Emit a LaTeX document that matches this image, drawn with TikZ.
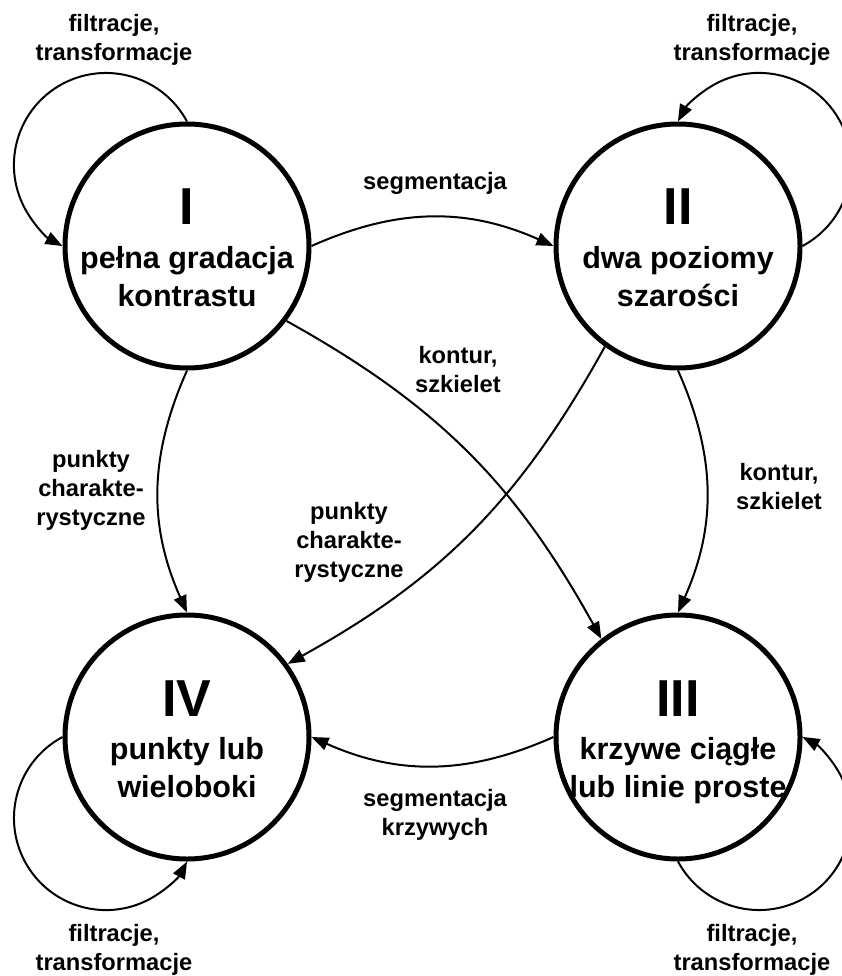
\documentclass[tikz,border=0pt]{standalone}
\usepackage{fontspec}
\setmainfont{Liberation Sans}
\usetikzlibrary{arrows.meta}
\begin{document}
\begin{tikzpicture}[x=1pt,y=1pt,
  state/.style={circle,draw,line width=5pt,minimum size=244pt,inner sep=0pt},
  num/.style={anchor=base,inner sep=0pt,font=\fontsize{52}{60}\selectfont\bfseries},
  desc/.style={anchor=base,inner sep=0pt,align=center,font=\fontsize{30.5}{38}\selectfont\bfseries},
  lab/.style={anchor=base,inner sep=0pt,align=center,font=\fontsize{23.7}{29}\selectfont\bfseries},
  conn/.style={line width=2pt,-{Triangle[length=17pt,width=13pt]}},
]
\useasboundingbox (0,0) rectangle (842,-976);
\node[state] (I) at (187,-246) {};
\node[state] (II) at (678,-246) {};
\node[state] (IV) at (187,-737) {};
\node[state] (III) at (678,-737) {};

\node[num] (nI) at ([yshift=21pt]I.center) {I};
\node[num] (nII) at ([yshift=21pt]II.center) {II};
\node[num] (nIV) at ([yshift=21pt]IV.center) {IV};
\node[num] (nIII) at ([yshift=21pt]III.center) {III};

% multi-line nodes: base = baseline of last line
\node[desc] (dI) at ([yshift=-60pt]I.center) {pełna gradacja\\kontrastu};
\node[desc] (dII) at ([yshift=-60pt]II.center) {dwa poziomy\\szarości};
\node[desc] (dIV) at ([yshift=-60pt]IV.center) {punkty lub\\wieloboki};
\node[desc] (dIII) at ([yshift=-60pt]III.center) {krzywe ciągłe\\lub linie proste};

% self loops
\draw[conn] (I.north) arc[start angle=28.2,end angle=241.8,radius=92pt];
\draw[conn] (II.east) arc[start angle=-61.8,end angle=151.8,radius=92pt];
\draw[conn] (IV.west) arc[start angle=118.2,end angle=331.8,radius=92pt];
\draw[conn] (III.south) arc[start angle=208.2,end angle=421.8,radius=92pt];

% transitions
\draw[conn] (I.east) to[out=24,in=156] (II.west);
\draw[conn] (II.south) to[out=-66,in=66] (III.north);
\draw[conn] (III.west) to[out=204,in=-24] (IV.east);
\draw[conn] (I.south) to[out=-114,in=114] (IV.north);
\draw[conn] (I.-37) to[out=-29,in=119] (III.128);
\draw[conn] (II.234) to[out=-119,in=29] (IV.36.5);

% labels
\node[lab] (l1) at (114,-61) {filtracje,\\transformacje};
\node[lab] (l2) at (752,-61) {filtracje,\\transformacje};
\node[lab] (l3) at (435,-190) {segmentacja};
\node[lab] (l4) at (458,-392) {kontur,\\szkielet};
\node[lab] (l5) at (349,-577) {punkty\\charakte-\\rystyczne};
\node[lab] (l6) at (91,-525) {punkty\\charakte-\\rystyczne};
\node[lab] (l7) at (779,-509) {kontur,\\szkielet};
\node[lab] (l8) at (435,-835) {segmentacja\\krzywych};
\node[lab] (l9) at (114,-970) {filtracje,\\transformacje};
\node[lab] (l10) at (752,-970) {filtracje,\\transformacje};
\end{tikzpicture}
\end{document}
